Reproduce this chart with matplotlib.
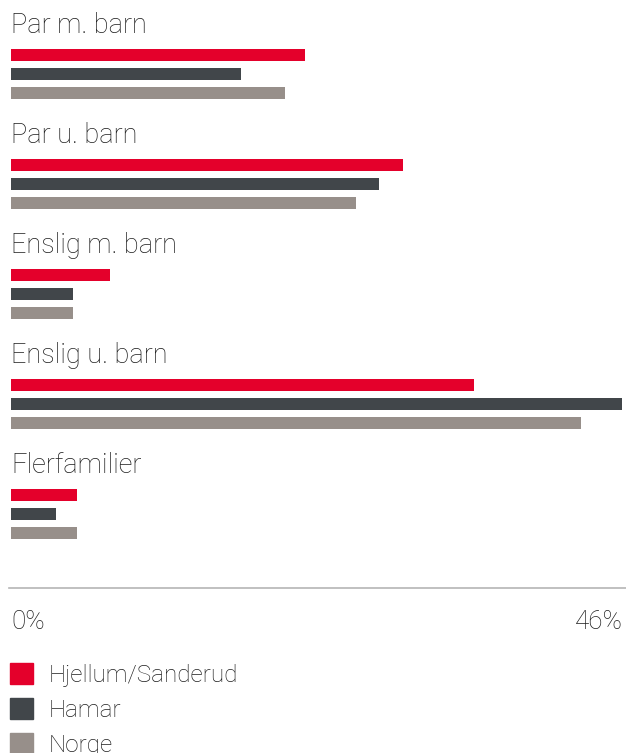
import matplotlib.pyplot as plt
from matplotlib.patches import Patch

plt.rcParams['font.family'] = ['Roboto', 'DejaVu Sans']

categories = ['Par m. barn', 'Par u. barn', 'Enslig m. barn', 'Enslig u. barn', 'Flerfamilier']
series = ['Hjellum/Sanderud', 'Hamar', 'Norge']
hjellum = [22.0, 29.3, 7.4, 34.6, 4.9]
hamar = [17.2, 27.5, 4.6, 45.7, 3.4]
norge = [20.5, 25.8, 4.6, 42.6, 4.9]
values = [hjellum, hamar, norge]
colors = ['#e4002b', '#41464a', '#978f8a']
xmax = 46
tick_labels = ['0%', '46%']

W, H = 626, 753
fig = plt.figure(figsize=(W / 100, H / 100), dpi=100)
# x in percent, y in pixel rows (top = 0)
left = 11
ax = fig.add_axes([left / W, 0, 1 - left / W, 1])
ax.set_xlim(0, xmax)
ax.set_ylim(H, 0)
ax.axis('off')

text_color = '#1e1e1e'
group_gap = 110
first_bar = 55
bar_gap = 19
for i, cat in enumerate(categories):
    base = first_bar + group_gap * i
    ax.text(0, base - 22, cat, fontsize=19.5, fontweight='light',
            color=text_color, va='baseline', ha='left')
    for j, vals in enumerate(values):
        ax.barh(base + bar_gap * j, vals[i], height=11.5, color=colors[j], left=0)

# baseline axis
ax.plot([-2 * xmax / 615, xmax], [588, 588], color='#b5b5b5', lw=1.2, clip_on=False)
ax.text(0, 629, tick_labels[0], fontsize=18.7, fontweight='light', color=text_color,
        ha='left', va='baseline')
ax.text(xmax * 612 / 615, 629, tick_labels[1], fontsize=18.7, fontweight='light',
        color=text_color, ha='right', va='baseline')

handles = [Patch(color=c, label=s) for c, s in zip(colors, series)]
leg = ax.legend(handles=handles, loc='upper left', bbox_to_anchor=(0, 1 - 653 / H),
                bbox_transform=fig.transFigure, frameon=False, fontsize=17.5,
                handlelength=0.95, handleheight=0.95, handletextpad=0.65,
                labelspacing=0.47, borderpad=0, borderaxespad=0.4)
for t in leg.get_texts():
    t.set_color(text_color)
    t.set_fontweight('light')

fig.savefig('out.png', dpi=100)
